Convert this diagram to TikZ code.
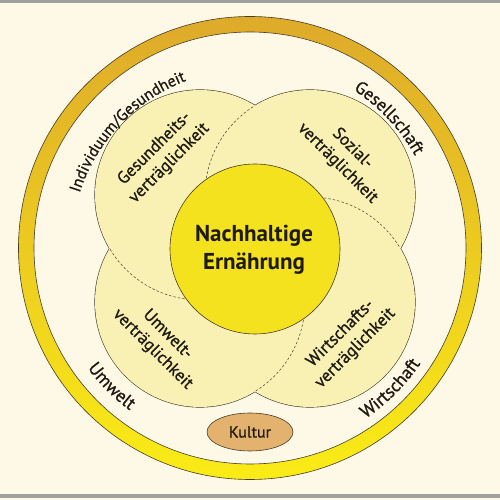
\documentclass[tikz,border=0pt]{standalone}
\usepackage{fontspec}
\setmainfont{PT Sans}
\newfontface\labfont{PT Sans}[RawFeature={embolden=0.9}]
\usetikzlibrary{decorations.text,shapes.geometric}
\definecolor{bgc}{RGB}{253,249,230}
\definecolor{petalc}{RGB}{249,240,180}
\definecolor{centerc}{RGB}{245,226,30}
\definecolor{kulturc}{RGB}{226,178,110}
\definecolor{ringtop}{RGB}{222,170,42}
\definecolor{ringbot}{RGB}{250,236,22}
\definecolor{linec}{RGB}{70,60,40}
\definecolor{textc}{RGB}{30,26,18}
\definecolor{framec}{RGB}{160,160,160}
\begin{document}
\begin{tikzpicture}[x=1pt,y=1pt,
  outl/.style={draw=linec,line width=0.6pt},
  dashline/.style={draw=linec,line width=0.5pt,dash pattern=on 2.5pt off 2pt},
  petaltext/.style={text=textc,align=center,font=\labfont\fontsize{17}{21}\selectfont},
  ringlabel/.style={decorate,decoration={text along path,text align=center,text color=textc}}]
\useasboundingbox (0,0) rectangle (500,500);
\fill[bgc] (0,0) rectangle (500,500);
\fill[framec] (0,497) rectangle (500,500);
\fill[framec] (0,2) rectangle (500,6);
\coordinate (C) at (250,252);
\coordinate (TL) at (200,305);
\coordinate (TR) at (310,305);
\coordinate (BL) at (200,198);
\coordinate (BR) at (310,198);
\coordinate (M) at (255,251);
% ring
\shade[top color=ringtop,bottom color=ringbot] (C) circle[radius=231.5];
\draw[outl] (C) circle[radius=231.5];
\fill[bgc] (C) circle[radius=216];
\draw[outl] (C) circle[radius=216];
% petals
\foreach \p in {TL,TR,BL,BR} \filldraw[fill=petalc,draw=linec,line width=1.2pt] (\p) circle[radius=105];
\foreach \p in {TL,TR,BL,BR} \fill[petalc] (\p) circle[radius=105];
\begin{scope}\clip (TL) circle[radius=105]; \draw[dashline] (TR) circle[radius=105];\end{scope}
\begin{scope}\clip (TR) circle[radius=105]; \draw[dashline] (BR) circle[radius=105];\end{scope}
\begin{scope}\clip (BR) circle[radius=105]; \draw[dashline] (BL) circle[radius=105];\end{scope}
\begin{scope}\clip (BL) circle[radius=105]; \draw[dashline] (TL) circle[radius=105];\end{scope}
% centre
\filldraw[fill=centerc,outl] (M) circle[radius=85];
\node[text=textc,align=center,font=\bfseries\fontsize{23}{28}\selectfont] (title) at (254,250) {Nachhaltige\\Ernährung};
% petal texts
\node[petaltext,rotate=45] (ges) at (162,344) {Gesundheits-\\verträglichkeit};
\node[petaltext,rotate=-45] (soz) at (345,344) {Sozial-\\verträglichkeit};
\node[petaltext,rotate=-45] (umw) at (160,158) {Umwelt-\\verträglichkeit};
\node[petaltext,rotate=45] (wir) at (348,159) {Wirtschafts-\\verträglichkeit};
% Kultur
\node[ellipse,fill=kulturc,outl,minimum width=86pt,minimum height=38pt,inner sep=0pt,text=textc,font=\labfont\fontsize{16}{18}\selectfont] (kultur) at (250,68) {Kultur};
% ring labels
\path[ringlabel,decoration={text={|\labfont\fontsize{16}{18}\selectfont|Individuum/Gesundheit}}]
  ([shift={(178:179)}]C) arc[start angle=178,end angle=95,radius=179];
\path[ringlabel,decoration={text={|\labfont\fontsize{17.5}{19}\selectfont|Gesellschaft}}]
  ([shift={(78:189)}]C) arc[start angle=78,end angle=8,radius=189];
\path[ringlabel,decoration={text={|\labfont\fontsize{18}{20}\selectfont|Umwelt}}]
  ([shift={(200:202)}]C) arc[start angle=200,end angle=250,radius=202];
\path[ringlabel,decoration={text={|\labfont\fontsize{18}{20}\selectfont|Wirtschaft}}]
  ([shift={(-70:206)}]C) arc[start angle=-70,end angle=-20,radius=206];
\end{tikzpicture}
\end{document}
